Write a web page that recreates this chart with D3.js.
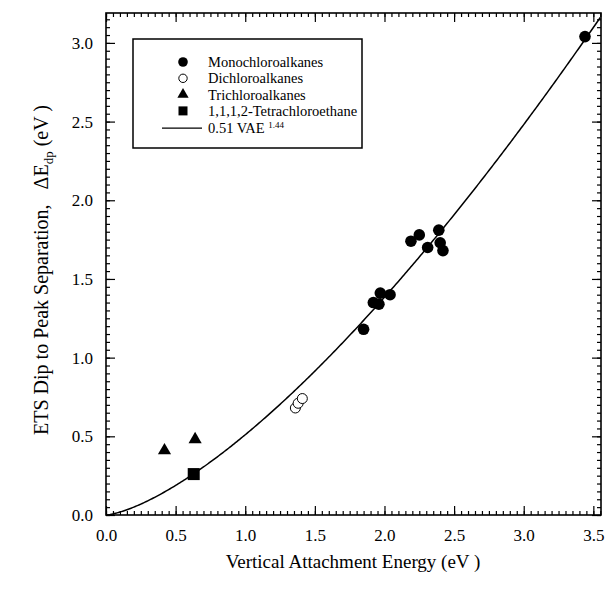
<!DOCTYPE html>
<html>
<head>
<meta charset="utf-8">
<script src="https://cdn.jsdelivr.net/npm/d3@7"></script>
<style>
  body { margin: 0; background: #fff; }
  svg text { font-family: "Liberation Serif", "DejaVu Serif", serif; fill: #000; }
</style>
</head>
<body>
<div id="chart"></div>
<script>
// data
const monoX = [3.44, 2.19, 2.25, 2.39, 2.31, 2.40, 2.42, 1.97, 2.04, 1.92, 1.96, 1.85];
const monoY = [3.04, 1.74, 1.78, 1.81, 1.70, 1.73, 1.68, 1.41, 1.40, 1.35, 1.34, 1.18];
const diX = [1.36, 1.38, 1.41];
const diY = [0.68, 0.71, 0.74];
const triX = [0.42, 0.64];
const triY = [0.41, 0.48];
const tetraX = [0.63];
const tetraY = [0.26];
const fitA = 0.51, fitB = 1.44;
const xTicks = [0.0, 0.5, 1.0, 1.5, 2.0, 2.5, 3.0, 3.5];
const yTicks = [0.0, 0.5, 1.0, 1.5, 2.0, 2.5, 3.0];

const FONT = '"Liberation Serif", "DejaVu Serif", serif';
const W = 606, H = 591;
const margin = { top: 13, right: 5, bottom: 76, left: 106 };
const width = W - margin.left - margin.right,
      height = H - margin.top - margin.bottom;

const svg = d3.select("#chart").append("svg")
    .attr("width", W).attr("height", H)
    .attr("font-family", FONT);
const g = svg.append("g").attr("transform", `translate(${margin.left},${margin.top})`);

const x = d3.scaleLinear().domain([0, 3.555]).range([0, width]);
const y = d3.scaleLinear().domain([0, 3.19]).range([height, 0]);

// minor ticks every 0.05
const xMinor = d3.range(0, 3.555, 0.05);
const yMinor = d3.range(0, 3.19, 0.05);

function axisG(axis, tf) {
    const a = g.append("g").attr("transform", tf).call(axis);
    a.attr("font-family", FONT);
    a.select(".domain").remove();
    a.selectAll("line").attr("stroke", "#000").attr("stroke-width", 1.2);
    return a;
}
// inward ticks on all four sides
axisG(d3.axisBottom(x).tickValues(xMinor).tickSize(-4).tickFormat(""), `translate(0,${height})`);
axisG(d3.axisTop(x).tickValues(xMinor).tickSize(-4).tickFormat(""), "translate(0,0)");
axisG(d3.axisLeft(y).tickValues(yMinor).tickSize(-4).tickFormat(""), "translate(0,0)");
axisG(d3.axisRight(y).tickValues(yMinor).tickSize(-4).tickFormat(""), `translate(${width},0)`);

const xb = axisG(d3.axisBottom(x).tickValues(xTicks).tickSize(-9).tickPadding(14).tickFormat(d3.format(".1f")), `translate(0,${height})`);
axisG(d3.axisTop(x).tickValues(xTicks).tickSize(-9).tickFormat(""), "translate(0,0)");
const yl = axisG(d3.axisLeft(y).tickValues(yTicks).tickSize(-9).tickPadding(13).tickFormat(d3.format(".1f")), "translate(0,0)");
axisG(d3.axisRight(y).tickValues(yTicks).tickSize(-9).tickFormat(""), `translate(${width},0)`);
xb.selectAll("text").style("font-size", "17px");
yl.selectAll("text").style("font-size", "17px");

// frame
g.append("rect").attr("width", width).attr("height", height)
    .attr("fill", "none").attr("stroke", "#000").attr("stroke-width", 1.6);

// fit curve
g.append("clipPath").attr("id", "clip").append("rect")
    .attr("width", width).attr("height", height);
const curve = d3.range(0, 3.56, 0.01).map(v => [v, fitA * Math.pow(v, fitB)]);
g.append("path").datum(curve)
    .attr("clip-path", "url(#clip)")
    .attr("fill", "none").attr("stroke", "#000").attr("stroke-width", 1.5)
    .attr("d", d3.line().x(d => x(d[0])).y(d => y(d[1])));

// points
const zip = (a, b) => a.map((v, i) => [v, b[i]]);
g.selectAll(".mono").data(zip(monoX, monoY)).enter().append("circle")
    .attr("cx", d => x(d[0])).attr("cy", d => y(d[1])).attr("r", 5.8).attr("fill", "#000");
g.selectAll(".di").data(zip(diX, diY)).enter().append("circle")
    .attr("cx", d => x(d[0])).attr("cy", d => y(d[1])).attr("r", 5)
    .attr("fill", "#fff").attr("stroke", "#000").attr("stroke-width", 1);
const triSym = d3.symbol().type(d3.symbolTriangle).size(75);
g.selectAll(".tri").data(zip(triX, triY)).enter().append("path")
    .attr("d", triSym).attr("transform", d => `translate(${x(d[0])},${y(d[1])})`).attr("fill", "#000");
g.selectAll(".sq").data(zip(tetraX, tetraY)).enter().append("rect")
    .attr("x", d => x(d[0]) - 6).attr("y", d => y(d[1]) - 6).attr("width", 12).attr("height", 12).attr("fill", "#000");

// legend
const lg = svg.append("g").attr("transform", "translate(133,39)");
lg.append("rect").attr("width", 229).attr("height", 109)
    .attr("fill", "#fff").attr("stroke", "#000").attr("stroke-width", 1.5);
const rows = [
    { label: "Monochloroalkanes", kind: "mono" },
    { label: "Dichloroalkanes", kind: "di" },
    { label: "Trichloroalkanes", kind: "tri" },
    { label: "1,1,1,2-Tetrachloroethane", kind: "sq" }
];
rows.forEach((r, i) => {
    const cy = 23 + i * 16.3, cx = 50;
    if (r.kind === "mono") lg.append("circle").attr("cx", cx).attr("cy", cy).attr("r", 4.8).attr("fill", "#000");
    if (r.kind === "di") lg.append("circle").attr("cx", cx).attr("cy", cy).attr("r", 4.2).attr("fill", "#fff").attr("stroke", "#000");
    if (r.kind === "tri") lg.append("path").attr("d", d3.symbol().type(d3.symbolTriangle).size(55)).attr("transform", `translate(${cx},${cy})`);
    if (r.kind === "sq") lg.append("rect").attr("x", cx - 4.5).attr("y", cy - 4.5).attr("width", 9).attr("height", 9);
    lg.append("text").attr("x", 75).attr("y", cy + 5).style("font-size", "14.5px").text(r.label);
});
const ly = 23 + 4 * 16.3 + 1;
lg.append("line").attr("x1", 29).attr("x2", 69).attr("y1", ly).attr("y2", ly).attr("stroke", "#000").attr("stroke-width", 1.2);
const ft = lg.append("text").attr("x", 75).attr("y", ly + 5).style("font-size", "14.5px");
ft.append("tspan").text("0.51 VAE ");
ft.append("tspan").attr("dy", -5).style("font-size", "9px").text("1.44");

// axis titles
svg.append("text").attr("x", 353).attr("y", 568).attr("text-anchor", "middle")
    .style("font-size", "19px").text("Vertical Attachment Energy (eV )");
const yt = svg.append("text").attr("transform", "translate(48,270) rotate(-90)")
    .attr("text-anchor", "middle").style("font-size", "20px");
yt.append("tspan").text("ETS Dip to Peak Separation,\u00a0\u00a0\u00a0ΔE");
yt.append("tspan").attr("dy", 5).style("font-size", "13px").text("dp");
yt.append("tspan").attr("dy", -5).text("\u00a0(eV )");
</script>
</body>
</html>
